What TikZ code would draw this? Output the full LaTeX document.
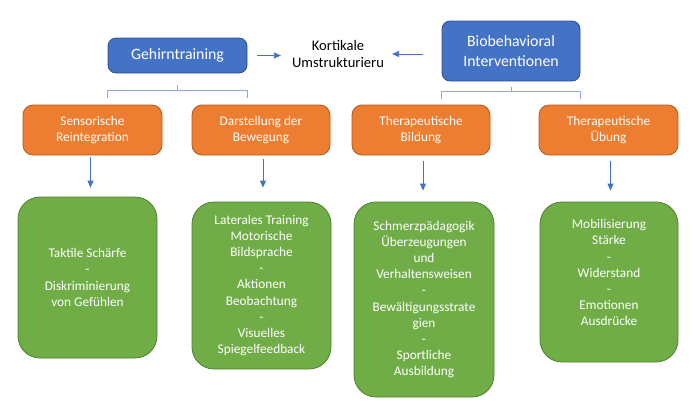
\documentclass[tikz,border=0pt]{standalone}
\usepackage{fontspec}
\setmainfont{Carlito}
\usepackage{tikz}
\usetikzlibrary{shapes}
\usetikzlibrary{arrows.meta}
\usetikzlibrary{positioning}

\definecolor{boxBlue}{HTML}{4472C4}
\definecolor{boxBlueDark}{HTML}{2F528F}
\definecolor{boxOrange}{HTML}{ED7D31}
\definecolor{boxOrangeDark}{HTML}{AE5A21}
\definecolor{boxGreen}{HTML}{70AD47}
\definecolor{boxGreenDark}{HTML}{507E32}
\definecolor{braceBlue}{HTML}{8FAADC}

\begin{document}
\begin{tikzpicture}[x=1pt,y=-1pt]
				\tikzset{mainBox/.style = {shape=rectangle,draw=boxBlueDark,fill=boxBlue,
						rounded corners=8pt,line width=0.8pt,inner sep=0pt,align=center,
						text=white,font=\fontsize{15.8}{19.3}\selectfont}}
				\tikzset{subBox/.style = {shape=rectangle,draw=boxOrangeDark,fill=boxOrange,
						rounded corners=10pt,line width=0.8pt,inner sep=0pt,align=center,
						minimum height=50pt,text=white,font=\fontsize{13.3}{16.2}\selectfont}}
				\tikzset{leafBox/.style = {shape=rectangle,draw=boxGreenDark,fill=boxGreen,
						rounded corners=22pt,line width=0.8pt,inner sep=0pt,align=center,
						text=white,font=\fontsize{13.3}{16.2}\selectfont}}
				\tikzset{arrowEdge/.style = {-{Triangle[width=6pt,length=7pt]},draw=boxBlue,line width=0.8pt}}
				\tikzset{brace/.style = {draw=braceBlue,line width=1pt}}
				
				\useasboundingbox (0,0) rectangle (693,408);
				
				% top row
				\node[mainBox,minimum width=139pt,minimum height=35pt] (geh) at (177.5,55.5) {Gehirntraining};
				\node[inner sep=0pt,align=center,font=\fontsize{14.6}{17.8}\selectfont] (kort) at (338,54)
					{Kortikale\\Umstrukturieru};
				\node[mainBox,minimum width=138pt,minimum height=60pt] (bio) at (511,51)
					{Biobehavioral\\Interventionen};
				
				% middle row
				\node[subBox,minimum width=139pt] (sens) at (92.5,130) {Sensorische\\Reintegration};
				\node[subBox,minimum width=138pt] (darst) at (261,130) {Darstellung der\\Bewegung};
				\node[subBox,minimum width=138pt] (bild) at (421,130) {Therapeutische\\Bildung};
				\node[subBox,minimum width=139pt] (ueb) at (608.5,130) {Therapeutische\\Übung};
				
				% bottom row
				\node[leafBox,minimum width=139pt,minimum height=161pt] (taktil) at (87.5,277.5)
					{Taktile Schärfe\\-\\Diskriminierung\\von Gefühlen};
				\node[leafBox,minimum width=139pt,minimum height=167pt] (lateral) at (261.5,285.5)
					{Laterales Training\\Motorische\\Bildsprache\\-\\Aktionen\\Beobachtung\\-\\Visuelles\\Spiegelfeedback};
				\node[leafBox,minimum width=140pt,minimum height=195pt] (schmerz) at (424,299.5)
					{Schmerzpädagogik\\Überzeugungen\\und\\Verhaltensweisen\\-\\Bewältigungsstrate\\gien\\-\\Sportliche\\Ausbildung};
				\node[leafBox,minimum width=138pt,minimum height=160pt,text depth=18.7pt] (mobil) at (609,282)
					{Mobilisierung\\Stärke\\-\\Widerstand\\-\\Emotionen\\Ausdrücke};
				
				%edges
				
				\draw[arrowEdge,shorten <=10pt,shorten >=11pt] (geh.east) -- (kort.west |- geh.east);
				\draw[arrowEdge,shorten <=19pt,shorten >=8pt] (bio.west |- kort.east) -- (kort.east);
				
				\draw[brace] ([yshift=-25pt]geh.south west) -- ([yshift=-17pt]geh.south west)
					-- ([yshift=-17pt]geh.south east) -- ([yshift=-25pt]geh.south east);
				\draw[brace] ([yshift=-17pt]geh.south) -- ([yshift=-12pt]geh.south);
				\draw[brace] ([yshift=-18pt]bio.south west) -- ([yshift=-10pt]bio.south west)
					-- ([yshift=-10pt]bio.south east) -- ([yshift=-18pt]bio.south east);
				\draw[brace] ([yshift=-10pt]bio.south) -- ([yshift=-6pt]bio.south);
				
				\draw[arrowEdge,shorten <=2pt,shorten >=9pt] ([xshift=-2pt]sens.south) -- ([xshift=-2pt]sens.south |- taktil.north);
				\draw[arrowEdge,shorten <=4pt,shorten >=14pt] ([xshift=2pt]darst.south) -- ([xshift=2pt]darst.south |- lateral.north);
				\draw[arrowEdge,shorten <=6pt,shorten >=11pt] ([xshift=2pt]bild.south) -- ([xshift=2pt]bild.south |- schmerz.north);
				\draw[arrowEdge,shorten <=6pt,shorten >=11pt] ([xshift=2pt]ueb.south) -- ([xshift=2pt]ueb.south |- mobil.north);
				
				\end{tikzpicture}
\end{document}
